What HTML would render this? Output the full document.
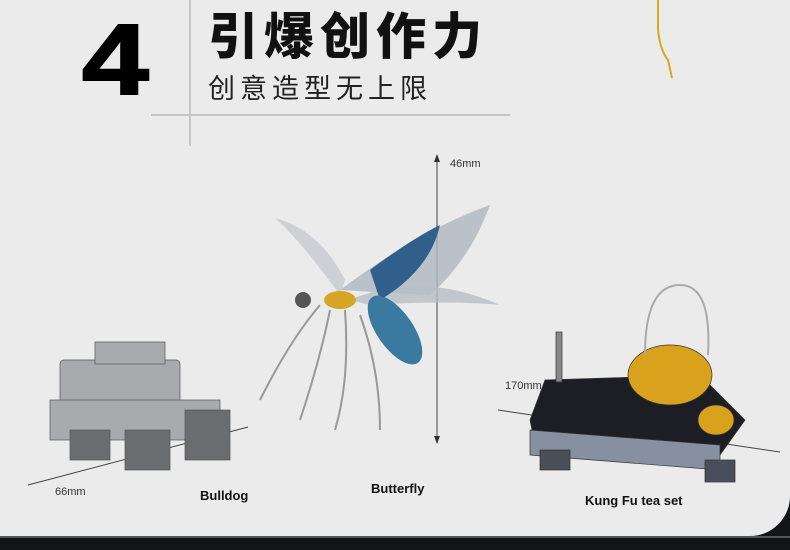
<!DOCTYPE html>
<html><head><meta charset="utf-8"><style>
body{margin:0;width:790px;height:550px;overflow:hidden;background:#121416;font-family:"Liberation Sans","Noto Sans CJK SC",sans-serif}
#p{position:absolute;left:0;top:0;width:790px;height:536px;background:#ebebeb;border-bottom-right-radius:40px}
.t{position:absolute;white-space:nowrap}
</style></head><body>
<div id="p"></div>
<div style="position:absolute;left:0;top:536px;width:790px;height:2px;background:#555"></div>
<svg width="790" height="550" style="position:absolute;left:0;top:0">
<line x1="190" y1="0" x2="190" y2="146" stroke="#c8c8c8" stroke-width="2"/>
<line x1="151" y1="115" x2="510" y2="115" stroke="#c4c4c4" stroke-width="2"/>
<path d="M658 0 L658 30 Q660 50 668 60 L672 78" stroke="#d9a820" stroke-width="2" fill="none"/>
<line x1="437" y1="158" x2="437" y2="440" stroke="#444" stroke-width="1"/>
<polygon points="437,154 434,162 440,162" fill="#333"/><polygon points="437,444 434,436 440,436" fill="#333"/>
<line x1="28" y1="485" x2="248" y2="427" stroke="#444"/>
<line x1="498" y1="410" x2="780" y2="452" stroke="#444"/>
<path d="M340 290 Q420 230 490 205 Q470 260 430 295 Z" fill="#aeb6c0" opacity=".8"/>
<path d="M350 300 Q420 270 500 305 Q450 300 370 305 Z" fill="#b8bec6" opacity=".8"/>
<path d="M340 295 Q300 240 275 218 Q320 230 345 280Z" fill="#c6cbd1" opacity=".8"/>
<path d="M370 270 Q410 240 440 225 Q430 270 380 300 Z" fill="#2f5f8a"/>
<ellipse cx="395" cy="330" rx="18" ry="40" transform="rotate(-35 395 330)" fill="#3b7aa0"/>
<ellipse cx="340" cy="300" rx="16" ry="9" fill="#d8a626"/>
<circle cx="303" cy="300" r="8" fill="#555"/>
<path d="M320 305 Q290 340 260 400 M330 310 Q320 360 300 420 M345 310 Q350 380 335 430 M360 315 Q380 370 380 430" stroke="#999" stroke-width="2" fill="none"/>
<g fill="#a8aaae" stroke="#555" stroke-width=".7">
<rect x="60" y="360" width="120" height="60" rx="4"/>
<rect x="50" y="400" width="170" height="40"/>
<rect x="95" y="342" width="70" height="22"/>
<rect x="70" y="430" width="40" height="30" fill="#6a6c70"/>
<rect x="125" y="430" width="45" height="40" fill="#6a6c70"/>
<rect x="185" y="410" width="45" height="50" fill="#6a6c70"/>
</g>
<g stroke="#333" stroke-width=".7">
<polygon points="545,380 700,375 745,420 720,455 535,445 530,420" fill="#1c1e24"/>
<polygon points="530,430 720,445 720,470 530,455" fill="#8790a0"/>
<rect x="540" y="450" width="30" height="20" fill="#4a4e58"/>
<rect x="705" y="460" width="30" height="22" fill="#4a4e58"/>
<ellipse cx="670" cy="375" rx="42" ry="30" fill="#d9a21c"/>
<ellipse cx="716" cy="420" rx="18" ry="15" fill="#d9a21c"/>
<rect x="556" y="332" width="6" height="50" fill="#888"/>
</g>
<path d="M645 355 Q645 285 680 285 Q712 285 708 355" stroke="#aaa" stroke-width="2" fill="none"/>
</svg>
<div class="t" style="left:82px;top:10px;font-size:100px;font-weight:bold;line-height:100px;color:#000;transform:scaleX(1.2);transform-origin:left top;-webkit-text-stroke:2px #000">4</div>
<div class="t" style="left:208px;top:8px;font-size:50px;font-weight:900;line-height:58px;letter-spacing:6px;color:#111">引爆创作力</div>
<div class="t" style="left:208px;top:72px;font-size:27px;line-height:34px;letter-spacing:5px;color:#222">创意造型无上限</div>
<div class="t" style="left:450px;top:158px;font-size:11px;color:#333">46mm</div>
<div class="t" style="left:55px;top:486px;font-size:11px;color:#333">66mm</div>
<div class="t" style="left:505px;top:380px;font-size:11px;color:#333">170mm</div>
<div class="t" style="left:200px;top:488px;font-size:13px;font-weight:bold;color:#111">Bulldog</div>
<div class="t" style="left:371px;top:481px;font-size:13px;font-weight:bold;color:#111">Butterfly</div>
<div class="t" style="left:585px;top:493px;font-size:13px;font-weight:bold;color:#111">Kung Fu tea set</div>
</body></html>
